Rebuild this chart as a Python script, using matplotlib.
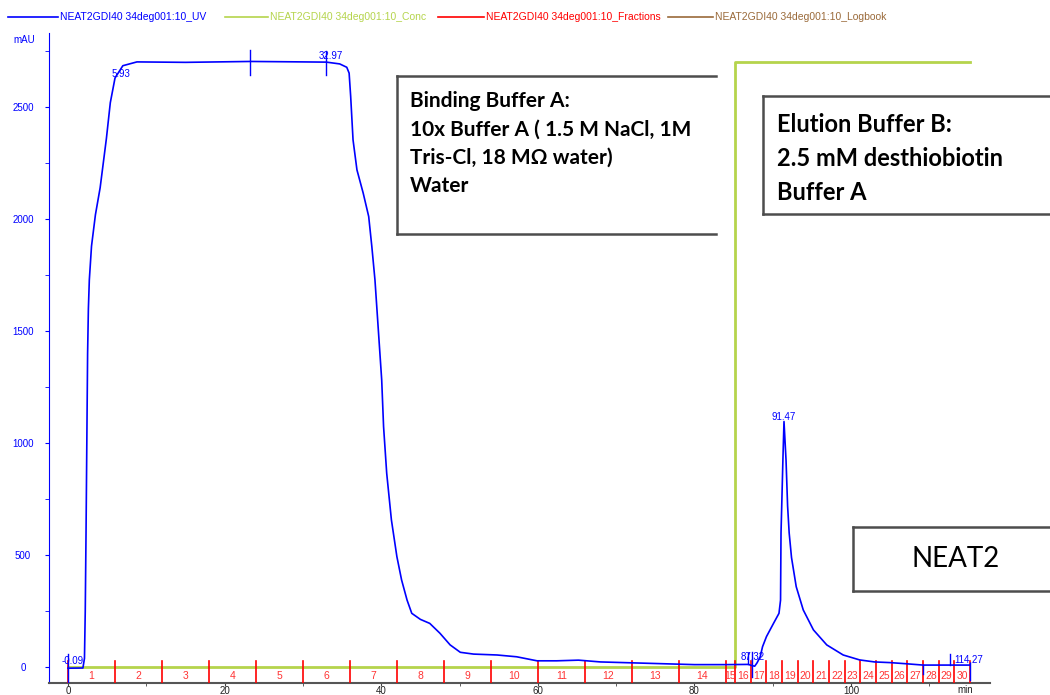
import matplotlib
matplotlib.use("Agg")
import matplotlib.pyplot as plt
from matplotlib.lines import Line2D
from matplotlib.ticker import MultipleLocator

# UV 280 trace, minutes vs mAU
uv_time = [0, 1.9, 2.1, 2.2, 2.3, 2.4, 2.5, 2.6, 2.72, 3.0, 3.5, 4.1, 4.9, 5.4, 6.0,
           7.0, 8.8, 15, 23.3, 30, 33.0, 34.7, 35.6, 35.9, 36.1, 36.4, 36.9, 37.7,
           38.4, 38.8, 39.2, 40.06, 40.3, 40.7, 41.3, 42.0, 42.6, 43.3, 43.9, 45.0,
           46.2, 47.5, 48.8, 50.1, 51.8, 54.8, 57.3, 59.9, 62.4, 65.2, 68, 72, 76,
           80, 84, 86.9, 87.3, 87.7, 88.0, 88.4, 88.7, 89.2, 90.1, 90.8, 91.0, 91.06,
           91.15, 91.3, 91.44, 91.7, 91.9, 92.1, 92.4, 93.0, 93.9, 95.2, 96.9, 99.0,
           101.1, 103, 105, 107, 109.2, 112, 115.2]
uv_mau = [-4, -3, 40, 250, 600, 1000, 1400, 1600, 1729, 1880, 2020, 2140, 2360, 2520, 2630,
          2685, 2702, 2700, 2704, 2702, 2701, 2693, 2678, 2652, 2547, 2354, 2220, 2116,
          2012, 1878, 1729, 1283, 1074, 866, 658, 494, 390, 300, 241, 214,
          196, 152, 100, 67, 59, 55, 47, 29, 29, 32, 24, 20, 16,
          12, 12, 13, 8, 5, 20, 47, 92, 137, 196, 241, 300, 600,
          720, 925, 1097, 925, 720, 600, 490, 360, 256, 167, 100, 55,
          33, 24, 21, 16, 10, 10, 10]

# gradient step (0 -> 100 %B), drawn on the mAU scale
conc_time = [0, 85.2, 85.2, 115.2]
conc_level = [0, 0, 2700, 2700]

# fraction boundaries (min) and numbers
frac_edges = [0, 6, 12, 18, 24, 30, 36, 42, 48, 54, 60, 66, 72, 78, 84, 85.2,
              87.2, 89.2, 91.2, 93.2, 95.2, 97.2, 99.2, 101.2, 103.2, 105.2,
              107.2, 109.2, 111.2, 113.2, 115.2]
frac_names = [str(i) for i in range(1, 31)]

# peak retention labels
peak_text = ["-0.09", "5.93", "32.97", "87.32", "91.47", "114.27"]
peak_x = [0.6, 6.8, 33.6, 87.4, 91.45, 115.0]
peak_y = [28, 2650, 2728, 46, 1118, 33]

# integration marks: time, lower, upper
mark_t = [0, 23.3, 32.97, 86.9, 87.4, 109.2, 112.7, 115.2]
mark_lo = [-75, 2643, 2643, 15, -42, -30, 10, -57]
mark_hi = [60, 2755, 2750, 65, 70, 10, 59, 19]

BLUE = "#0000ff"
GREEN = "#b5d44c"
RED = "#ff0000"
BROWN = "#9a6a3a"

plt.rcParams["font.family"] = ["Liberation Sans", "DejaVu Sans"]

fig = plt.figure(figsize=(10.5, 6.95), dpi=100)
ax = fig.add_axes([49 / 1050, 12 / 695, 941 / 1050, 650 / 695])

ax.plot(conc_time, conc_level, color=GREEN, lw=2, zorder=2)
ax.plot(uv_time, uv_mau, color=BLUE, lw=1.2, zorder=4)

for t, lo, hi in zip(mark_t, mark_lo, mark_hi):
    ax.plot([t, t], [lo, hi], color=BLUE, lw=1, zorder=4)

for x0, x1, name in zip(frac_edges[:-1], frac_edges[1:], frac_names):
    ax.plot([x0, x0], [-75, 30], color=RED, lw=1.2, zorder=3)
    ax.text((x0 + x1) / 2, -39, name, color="#ff3333", fontsize=7.5,
            ha="center", va="center", zorder=5)
ax.plot([frac_edges[-1]] * 2, [-75, 30], color=RED, lw=1.2, zorder=3)

for s, x, y in zip(peak_text, peak_x, peak_y):
    ax.text(x, y, s, color=BLUE, fontsize=7, ha="center", va="center", zorder=6)

ax.set_xlim(-2.43, 117.75)
ax.set_ylim(-70, 2831)
ax.xaxis.set_minor_locator(MultipleLocator(10))
ax.yaxis.set_minor_locator(MultipleLocator(250))
ax.set_xticks([0, 20, 40, 60, 80, 100])
ax.set_yticks([0, 500, 1000, 1500, 2000, 2500])

ax.spines["top"].set_visible(False)
ax.spines["right"].set_visible(False)
ax.spines["left"].set_color(BLUE)
ax.spines["bottom"].set_color("#555555")
ax.spines["bottom"].set_linewidth(1.5)
ax.tick_params(axis="y", which="both", colors=BLUE, labelsize=7, length=3, pad=15.8)
for lab in ax.get_yticklabels():
    lab.set_horizontalalignment("center")
ax.tick_params(axis="x", which="both", colors="#444444", labelcolor="#222222",
               labelsize=7, length=2, pad=0.5)
ax.text(-25 / 941, 1.0 - 7 / 650, "mAU", transform=ax.transAxes, color=BLUE,
        fontsize=7, ha="center", va="center")
fig.text(965 / 1050, 1 - 685 / 695, "min", color="#222222",
         fontsize=7, ha="center", va="top")

# legend strip across the top
legend_items = [("NEAT2GDI40 34deg001:10_UV", BLUE, 8, 58),
                ("NEAT2GDI40 34deg001:10_Conc", GREEN, 225, 268),
                ("NEAT2GDI40 34deg001:10_Fractions", RED, 438, 484),
                ("NEAT2GDI40 34deg001:10_Logbook", BROWN, 668, 713)]
ly = 1 - 17 / 695
for label, col, x0, x1 in legend_items:
    fig.add_artist(Line2D([x0 / 1050, x1 / 1050], [ly, ly], color=col, lw=1.2,
                          transform=fig.transFigure))
    fig.text((x1 + 2) / 1050, ly, label, color=col, fontsize=7.5,
             ha="left", va="center")


def note_box(left, top, bottom, right=1050):
    # white panel with grey frame on left, top and bottom only
    l, r = left / 1050, right / 1050
    t, b = 1 - top / 695, 1 - bottom / 695
    fig.patches.append(plt.Rectangle((l, b), r - l, t - b, transform=fig.transFigure,
                                     facecolor="white", edgecolor="none", zorder=10))
    for xs, yv in (([l, l], [b, t]), ([l, r], [t, t]), ([l, r], [b, b])):
        fig.add_artist(Line2D(xs, yv, color="#4d4d4d", lw=1.8,
                              transform=fig.transFigure, zorder=11))


def note_lines(left, lines, ys, size):
    for s, y in zip(lines, ys):
        fig.text(left / 1050, 1 - y / 695, s, fontsize=size, fontweight="bold",
                 family=["Lato", "DejaVu Sans"], ha="left", va="center", zorder=12)


note_box(397, 76, 234, right=716)
note_lines(410, ["Binding Buffer A:", "10x Buffer A ( 1.5 M NaCl, 1M",
                 "Tris-Cl, 18 M\u03a9 water)", "Water"], [101, 130, 158, 186], 15)
note_box(763, 96, 214)
note_lines(777, ["Elution Buffer B:", "2.5 mM desthiobiotin", "Buffer A"],
           [124, 158, 193], 17)
note_box(853, 527, 591)
fig.text(956 / 1050, 1 - 559 / 695, "NEAT2", fontsize=20, family=["Lato", "DejaVu Sans"],
         ha="center", va="center", zorder=12)

fig.savefig("out.png", dpi=100)
